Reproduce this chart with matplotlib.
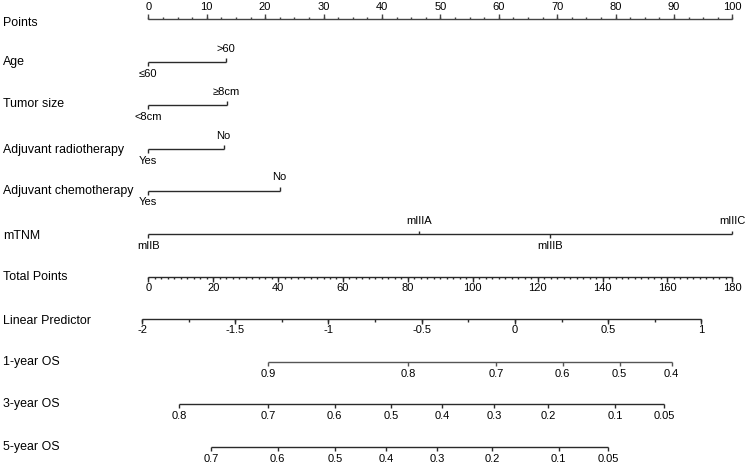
import matplotlib
matplotlib.use('Agg')
import matplotlib.pyplot as plt
import matplotlib.transforms as mtransforms
import numpy as np

plt.rcParams['font.family'] = ['Liberation Sans', 'DejaVu Sans']

# ---------------- data ----------------
points_ticks = list(range(0, 101, 10))
points_minor_step = 2.5

age_labels = ['≤60', '>60']
age_points = [0, 13.3]
tumor_labels = ['<8cm', '≥8cm']
tumor_points = [0, 13.4]
radio_labels = ['Yes', 'No']
radio_points = [0, 12.9]
chemo_labels = ['Yes', 'No']
chemo_points = [0, 22.5]
tnm_labels = ['mIIB', 'mIIIA', 'mIIIB', 'mIIIC']
tnm_points = [0, 46.3, 68.8, 100]

total_ticks = list(range(0, 181, 20))
total_minor_step = 2
total_max = 180

lp_ticks = [-2, -1.5, -1, -0.5, 0, 0.5, 1]
lp_tick_labels = ['-2', '-1.5', '-1', '-0.5', '0', '0.5', '1']
lp_minor_step = 0.25
lp_total_at_minus2 = -1.94     # total points where LP = -2
lp_total_per_unit = 57.48      # total points per LP unit

os1_labels = ['0.9', '0.8', '0.7', '0.6', '0.5', '0.4']
os1_total = [37.0, 80.0, 107.1, 127.7, 145.3, 161.3]
os3_labels = ['0.8', '0.7', '0.6', '0.5', '0.4', '0.3', '0.2', '0.1', '0.05']
os3_total = [9.6, 37.0, 57.4, 74.8, 90.6, 106.6, 123.3, 143.8, 158.9]
os5_labels = ['0.7', '0.6', '0.5', '0.4', '0.3', '0.2', '0.1', '0.05']
os5_total = [19.3, 39.9, 57.5, 73.3, 89.1, 105.9, 126.5, 141.7]

row_names = ['Points', 'Age', 'Tumor size', 'Adjuvant radiotherapy',
             'Adjuvant chemotherapy', 'mTNM', 'Total Points',
             'Linear Predictor', '1-year OS', '3-year OS', '5-year OS']

# ---------------- layout ----------------
W, H = 747, 465
fig = plt.figure(figsize=(W / 100, H / 100), dpi=100)
ax = fig.add_axes([0, 0, 1, 1])
x0_px, px_per_pt = 148.3, 5.84
ax.set_xlim(-x0_px / px_per_pt, (W - x0_px) / px_per_pt)
ax.set_ylim(H, 0)
ax.axis('off')

LC = '#2a2a2a'
LW = 1.0
FS_LAB = 8.9
FS_TICK = 8.0
MAJ = 4.5
MIN = 2.0

label_y = [22.5, 61.7, 104.3, 150.0, 191.0, 236.0, 277.3, 321.0, 362.0, 404.3, 446.7]
line_y = {'points': 19.0, 'age': 62.3, 'tumor': 105.3, 'radio': 149.3, 'chemo': 190.7,
          'tnm': 234.3, 'total': 277.0, 'lp': 319.3, 'os1': 362.3, 'os3': 404.0, 'os5': 447.3}

lab_tr = mtransforms.blended_transform_factory(ax.transAxes, ax.transData)
for name, y in zip(row_names, label_y):
    ax.text(3 / W, y, name, transform=lab_tr, ha='left', va='center',
            fontsize=FS_LAB, color='black')


def hline(xa, xb, y, color=LC):
    ax.plot([xa, xb], [y, y], color=color, lw=LW, solid_capstyle='butt')


def vtick(x, y, length, direction, color=LC):
    ax.plot([x, x], [y, y + direction * length], color=color, lw=LW, solid_capstyle='butt')


UP_OFF = -13.3
DN_OFF = 11.3

# Points axis
yp = line_y['points']
hline(0, 100, yp, '#444444')
for v in np.arange(0, 100 + 1e-9, points_minor_step):
    vtick(v, yp, MIN, -1, '#444444')
for v in points_ticks:
    vtick(v, yp, MAJ, -1, '#444444')
    ax.text(v, 7.3, str(v), ha='center', va='center', fontsize=FS_TICK)


# categorical rows
def cat_row(key, labels, pts):
    y = line_y[key]
    hline(min(pts), max(pts), y)
    for i, (lab, p) in enumerate(zip(labels, pts)):
        up = (i % 2 == 1)
        vtick(p, y, MAJ - 0.7, -1 if up else 1)
        ax.text(p, y + (UP_OFF if up else DN_OFF), lab, ha='center', va='center',
                fontsize=FS_TICK)


cat_row('age', age_labels, age_points)
cat_row('tumor', tumor_labels, tumor_points)
cat_row('radio', radio_labels, radio_points)
cat_row('chemo', chemo_labels, chemo_points)
cat_row('tnm', tnm_labels, tnm_points)


def tp2pt(tp):
    return np.asarray(tp, dtype=float) * 100.0 / total_max


# Total points
yt = line_y['total']
hline(0, 100, yt)
for v in np.arange(0, total_max + 1e-9, total_minor_step):
    vtick(tp2pt(v), yt, MIN, 1)
for v in total_ticks:
    vtick(tp2pt(v), yt, MAJ, 1)
    ax.text(tp2pt(v), yt + 10.5, str(v), ha='center', va='center', fontsize=FS_TICK)


# Linear predictor
def lp2pt(lp):
    return tp2pt(lp_total_at_minus2 + (np.asarray(lp, dtype=float) + 2) * lp_total_per_unit)


yl = line_y['lp']
hline(lp2pt(lp_ticks[0]), lp2pt(lp_ticks[-1]), yl)
for v in np.arange(lp_ticks[0], lp_ticks[-1] + 1e-9, lp_minor_step):
    vtick(lp2pt(v), yl, MIN + 0.5, 1)
for v, lab in zip(lp_ticks, lp_tick_labels):
    vtick(lp2pt(v), yl, MAJ, 1)
    ax.text(lp2pt(v), yl + 10.8, lab, ha='center', va='center', fontsize=FS_TICK)


# survival axes
def surv_row(key, labels, tps, color=LC):
    y = line_y[key]
    xs = tp2pt(tps)
    hline(xs.min(), xs.max(), y, color)
    for x, lab in zip(xs, labels):
        vtick(x, y, MAJ - 0.5, 1, color)
        ax.text(x, y + 11.8, lab, ha='center', va='center', fontsize=FS_TICK)


surv_row('os1', os1_labels, os1_total, '#555555')
surv_row('os3', os3_labels, os3_total)
surv_row('os5', os5_labels, os5_total)

fig.savefig('out.png', dpi=100)
